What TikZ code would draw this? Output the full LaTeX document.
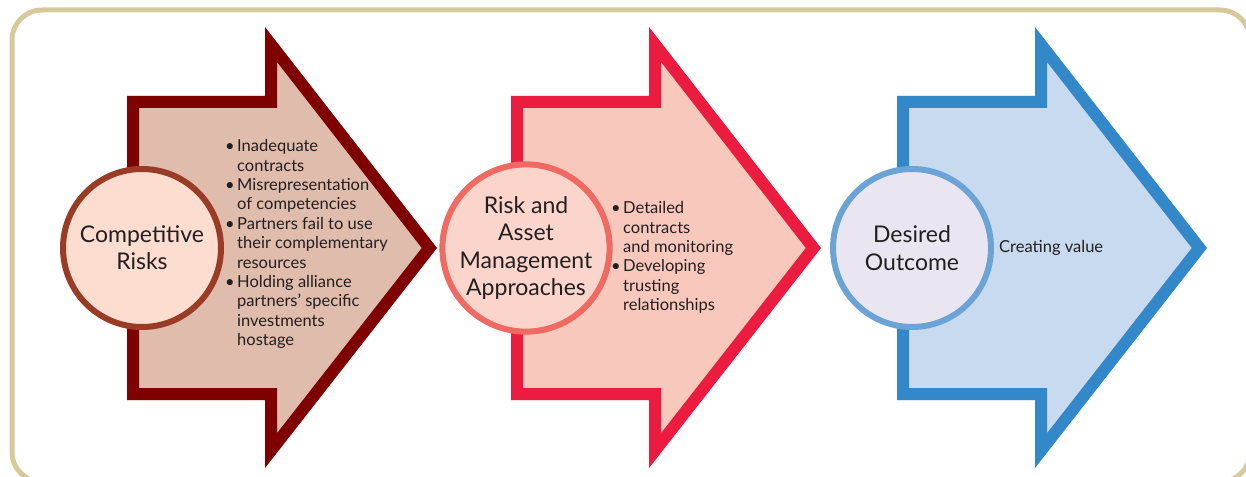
\documentclass[tikz,border=0pt]{standalone}
\usepackage{fontspec}
\setmainfont{Lato}
\usetikzlibrary{positioning}
\definecolor{frametan}{HTML}{D8C99B}
\definecolor{ink}{HTML}{231F20}
\definecolor{riskedge}{HTML}{7F0000}
\definecolor{riskfill}{HTML}{DFBCAB}
\definecolor{riskring}{HTML}{9A3B26}
\definecolor{riskdisc}{HTML}{FCDDD0}
\definecolor{mgmtedge}{HTML}{EC1C40}
\definecolor{mgmtfill}{HTML}{F8C8BD}
\definecolor{mgmtring}{HTML}{F06A62}
\definecolor{mgmtdisc}{HTML}{FBD5CB}
\definecolor{goaledge}{HTML}{3388C9}
\definecolor{goalfill}{HTML}{C8DAEF}
\definecolor{goalring}{HTML}{6BA3D7}
\definecolor{goaldisc}{HTML}{EAE6F1}

\begin{document}
\begin{tikzpicture}[x=1pt,y=-1pt,
  stage/.style={circle,line width=6pt,minimum size=158pt,inner sep=0pt,align=center,
    font=\fontsize{23}{27.3}\selectfont,text=ink},
  items/.style={anchor=north west,inner sep=0pt,font=\fontsize{16.5}{19.4}\selectfont,text=ink}]
\useasboundingbox (0,0) rectangle (1246,476);
\clip (0,0) rectangle (1246,476);
\draw[frametan,line width=5pt,rounded corners=30pt] (12,10) rectangle (1250,482);
\foreach \l/\fc/\dc in {127/riskfill/riskedge,511/mgmtfill/mgmtedge,897/goalfill/goaledge}{
  \coordinate (p1) at (\l,96); \coordinate (p2) at (\l+138,96); \coordinate (p3) at (\l+138,27);
  \coordinate (p4) at (\l+310,248); \coordinate (p5) at (\l+138,468); \coordinate (p6) at (\l+138,400);
  \coordinate (p7) at (\l,400);
  \begin{scope}
    \clip (p1) -- (p2) -- (p3) -- (p4) -- (p5) -- (p6) -- (p7) -- cycle;
    \draw[fill=\fc,draw=\dc,line width=24pt,line join=miter] (p1) -- (p2) -- (p3) -- (p4) -- (p5) -- (p6) -- (p7) -- cycle;
  \end{scope}
}
\node[stage,draw=riskring,fill=riskdisc] (risks) at (142,248) {Competitive\\Risks};
\node[stage,draw=mgmtring,fill=mgmtdisc] (approaches) at (526,248) {Risk and\\Asset\\Management\\Approaches};
\node[stage,draw=goalring,fill=goaldisc] (outcome) at (912,248) {Desired\\Outcome};
\node[items] (riskitems) at (225,138) {\begin{tabular}{@{}p{12pt}@{}l@{}}
  \textbullet & Inadequate\\ & contracts\\
  \textbullet & Misrepresentation\\ & of competencies\\
  \textbullet & Partners fail to use\\ & their complementary\\ & resources\\
  \textbullet & Holding alliance\\ & partners’ specific\\ & investments\\ & hostage
\end{tabular}};
\node[items] (approachitems) at (611,200) {\begin{tabular}{@{}p{12pt}@{}l@{}}
  \textbullet & Detailed\\ & contracts\\ & and monitoring\\
  \textbullet & Developing\\ & trusting\\ & relationships
\end{tabular}};
\node[items,anchor=west,right=5pt of outcome] (outcomeitems) {Creating value};
\end{tikzpicture}
\end{document}
